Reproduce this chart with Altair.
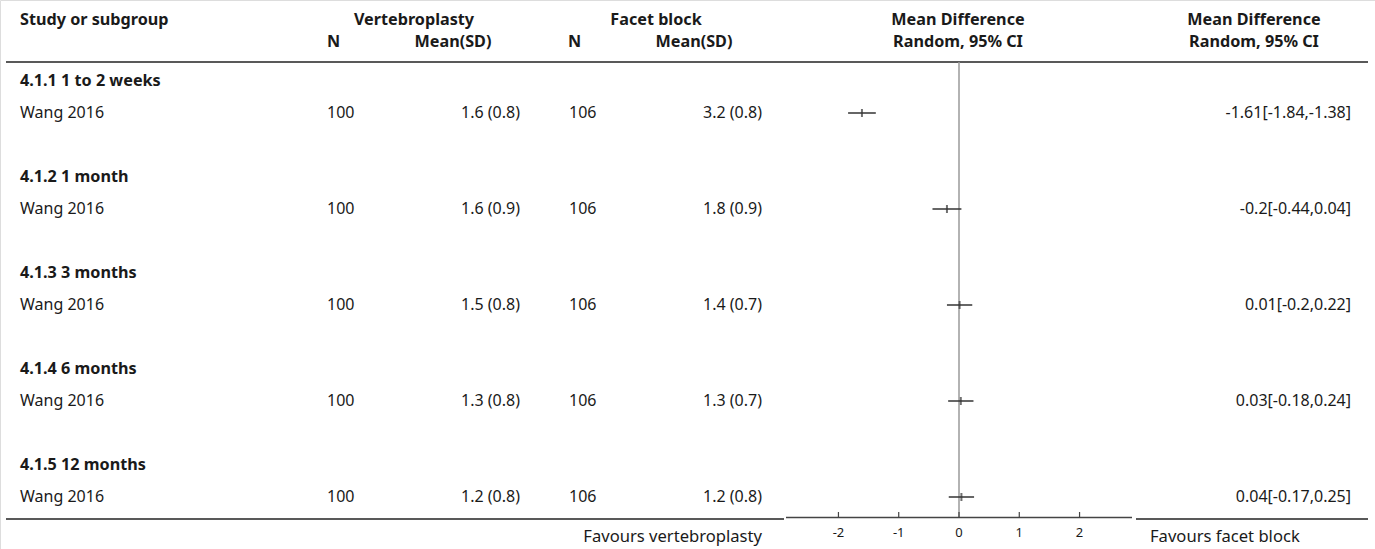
import altair as alt
import pandas as pd

# Forest plot: vertebroplasty vs facet block, pain score by follow-up time
subgroups = ["4.1.1 1 to 2 weeks", "4.1.2 1 month", "4.1.3 3 months",
             "4.1.4 6 months", "4.1.5 12 months"]
studies = ["Wang 2016", "Wang 2016", "Wang 2016", "Wang 2016", "Wang 2016"]
n_vert = [100, 100, 100, 100, 100]
mean_vert = [1.6, 1.6, 1.5, 1.3, 1.2]
sd_vert = [0.8, 0.9, 0.8, 0.8, 0.8]
n_facet = [106, 106, 106, 106, 106]
mean_facet = [3.2, 1.8, 1.4, 1.3, 1.2]
sd_facet = [0.8, 0.9, 0.7, 0.7, 0.8]
mean_diff = [-1.61, -0.2, 0.01, 0.03, 0.04]
ci_low = [-1.84, -0.44, -0.2, -0.18, -0.17]
ci_high = [-1.38, 0.04, 0.22, 0.24, 0.25]
axis_ticks = [-2, -1, 0, 1, 2]
x_limit = 2.87

FONT = "Noto Sans"
FS = 16
FS_BOLD = 16.2
COL_TEXT = "#1a1a1a"
W, H = 1375, 549


def fmt(v):
    return f"{v:g}"


study_rows = pd.DataFrame({
    "row": [3 * i + 1 for i in range(len(subgroups))],
    "study": studies,
    "n_v": [str(v) for v in n_vert],
    "msd_v": [f"{fmt(m)} ({fmt(s)})" for m, s in zip(mean_vert, sd_vert)],
    "n_f": [str(v) for v in n_facet],
    "msd_f": [f"{fmt(m)} ({fmt(s)})" for m, s in zip(mean_facet, sd_facet)],
    "md": mean_diff,
    "lo": ci_low,
    "hi": ci_high,
    "ci_text": [f"{fmt(m)}[{fmt(l)},{fmt(h)}]" for m, l, h in zip(mean_diff, ci_low, ci_high)],
})
heading_rows = pd.DataFrame({
    "row": [3 * i for i in range(len(subgroups))],
    "heading": subgroups,
})
ticks_df = pd.DataFrame({"t": axis_ticks, "lab": [str(t) for t in axis_ticks]})

# rows are 32 px apart, first subgroup heading at y = 81
yscale = alt.Scale(domain=[-81 / 32, (H - 81) / 32], reverse=True, zero=False, nice=False)
xscale = alt.Scale(domain=[-x_limit, x_limit], range=[786, 1132], zero=False, nice=False)
Y = alt.Y("row:Q", scale=yscale, axis=None)


def txt(align, bold=False, size=None, color=COL_TEXT):
    if size is None:
        size = FS_BOLD if bold else FS
    return alt.Chart().mark_text(align=align, baseline="middle", font=FONT,
                                 fontSize=size, fontWeight="bold" if bold else "normal",
                                 color=color)


def header(label, x, y, align):
    return txt(align, bold=True).encode(x=alt.value(x), y=alt.value(y),
                                        text=alt.datum(label))


layers = [
    header("Study or subgroup", 20, 20, "left"),
    header("Vertebroplasty", 414, 20, "center"),
    header("Facet block", 656, 20, "center"),
    header("Mean Difference", 958, 20, "center"),
    header("Mean Difference", 1254, 20, "center"),
    header("N", 327, 42, "left"),
    header("Mean(SD)", 453, 42, "center"),
    header("N", 568, 42, "left"),
    header("Mean(SD)", 694, 42, "center"),
    header("Random, 95% CI", 958, 42, "center"),
    header("Random, 95% CI", 1254, 42, "center"),
]

# header and footer rules
layers.append(alt.Chart().mark_rule(color="#222", strokeWidth=1.6).encode(
    x=alt.value(6), x2=alt.value(1368), y=alt.value(62)))
layers.append(alt.Chart().mark_rule(color="#222", strokeWidth=1.6).encode(
    x=alt.value(6), x2=alt.value(784), y=alt.value(519)))
layers.append(alt.Chart().mark_rule(color="#222", strokeWidth=1.6).encode(
    x=alt.value(1136), x2=alt.value(1368), y=alt.value(519)))

# line of no effect
layers.append(alt.Chart().mark_rule(color="#9a9a9a", strokeWidth=1.5).encode(
    x=alt.X("z:Q", scale=xscale, axis=None), y=alt.value(62), y2=alt.value(517)
).transform_calculate(z="0"))

# subgroup headings and study rows
layers.append(alt.Chart(heading_rows).mark_text(
    align="left", baseline="middle", font=FONT, fontSize=FS_BOLD, fontWeight="bold",
    color=COL_TEXT).encode(x=alt.value(20), y=Y, text="heading:N"))

base = alt.Chart(study_rows)
for field, x, align in [("study", 20, "left"), ("n_v", 327, "left"),
                        ("msd_v", 520, "right"), ("n_f", 569, "left"),
                        ("msd_f", 762, "right"), ("ci_text", 1351, "right")]:
    layers.append(base.mark_text(align=align, baseline="middle", font=FONT,
                                 fontSize=FS, color=COL_TEXT).encode(
        x=alt.value(x), y=Y, text=f"{field}:N"))

# confidence intervals and point estimates
layers.append(base.mark_rule(color="#333", strokeWidth=1.5).encode(
    x=alt.X("lo:Q", scale=xscale, axis=None), x2="hi:Q", y=Y))
layers.append(base.mark_tick(color="#333", orient="vertical", size=8, thickness=2).encode(
    x=alt.X("md:Q", scale=xscale, axis=None), y=Y))

# x axis drawn as marks
axis_line = alt.Chart(ticks_df).mark_rule(color="#444", strokeWidth=1.4).encode(
    x=alt.X("a:Q", scale=xscale, axis=None), x2="b:Q", y=alt.value(517.5)
).transform_aggregate(n="count()").transform_calculate(a=f"{-x_limit}", b=f"{x_limit}")
layers.append(axis_line)
layers.append(alt.Chart(ticks_df).mark_rule(color="#444", strokeWidth=1.2).encode(
    x=alt.X("t:Q", scale=xscale, axis=None), y=alt.value(512), y2=alt.value(518)))
layers.append(alt.Chart(ticks_df).mark_text(
    baseline="middle", align="center", font=FONT, fontSize=13, color=COL_TEXT).encode(
    x=alt.X("t:Q", scale=xscale, axis=None), y=alt.value(533), text="lab:N"))

layers.append(txt("right", size=16.6).encode(x=alt.value(762), y=alt.value(537),
                                             text=alt.datum("Favours vertebroplasty")))
layers.append(txt("left", size=16.6).encode(x=alt.value(1150), y=alt.value(537),
                                            text=alt.datum("Favours facet block")))

chart = alt.layer(*layers).properties(
    width=W, height=H, padding=0, autosize=alt.AutoSizeParams(type="none")
).configure_view(stroke=None).configure(background="white")

chart.save("out.html", embed_options={"renderer": "svg", "actions": False})
